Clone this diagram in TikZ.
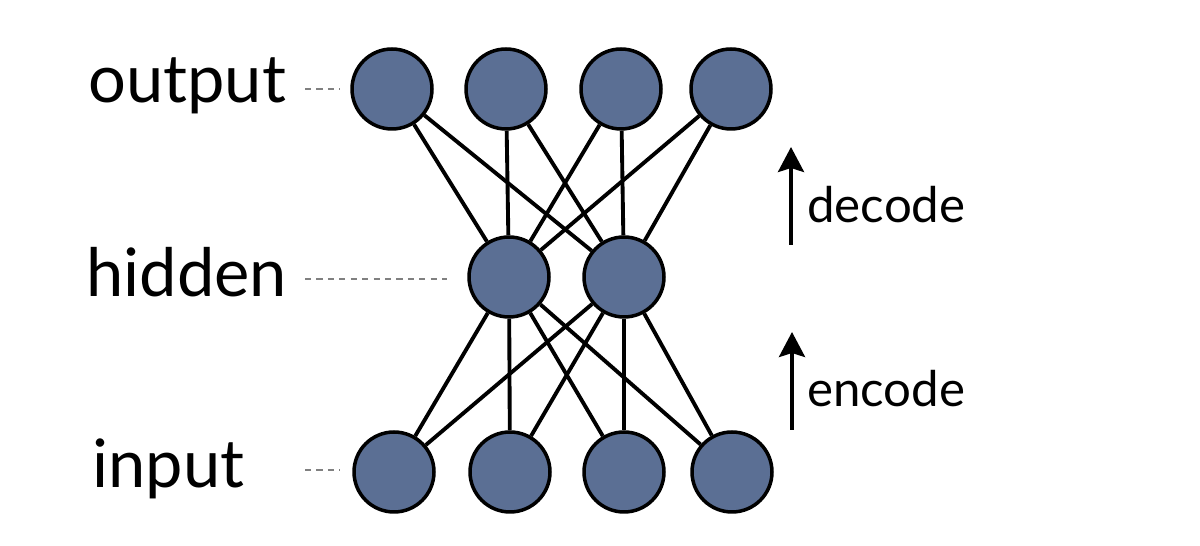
\documentclass[tikz,border=0pt]{standalone}
\usepackage{fontspec}
\setmainfont{Lato}
\usetikzlibrary{arrows.meta}
\definecolor{unitblue}{RGB}{91,111,148}

\begin{document}
\begin{tikzpicture}[
        x=0.02cm, y=-0.02cm,
        unit/.style={circle, draw=black, line width=2pt, fill=unitblue, minimum size=1.6cm, inner sep=0pt},
        layer/.style={font=\fontsize{38}{40}\selectfont, anchor=base west, inner sep=0pt},
        phase/.style={font=\fontsize{28}{30}\selectfont, anchor=base west, inner sep=0pt},
        link/.style={line width=2.2pt},
        guide/.style={gray, line width=1.1pt, dash pattern=on 3.5pt off 3pt},
        flow/.style={line width=2.2pt, -{Stealth[length=0.5cm, width=0.52cm, inset=0.08cm]}}
    ]
    \useasboundingbox (0,0) rectangle (1200,546);
%
    % Units
    \foreach \n/\x in {1/392, 2/506, 3/621, 4/731}
        \node[unit] (o\n) at (\x, 89) {};
    \node[unit] (h1) at (509, 277) {};
    \node[unit] (h2) at (624, 277) {};
    \foreach \n/\x in {1/394, 2/510, 3/624, 4/732}
        \node[unit] (i\n) at (\x, 472) {};
%
    % Weights
    \foreach \h in {1,2}
        \foreach \n in {1,...,4} {
            \draw[link] (h\h) -- (o\n);
            \draw[link] (h\h) -- (i\n);
        }
%
    % Layer names
    \node[layer] (lbl_out) at (88, 103) {output};
    \node[layer] (lbl_hid) at (86, 297) {hidden};
    \node[layer] (lbl_in) at (92, 488) {input};
%
    \coordinate (out_a) at (305, 89);  \coordinate (out_b) at (340, 89);
    \coordinate (hid_a) at (305, 279); \coordinate (hid_b) at (447, 279);
    \coordinate (in_a) at (305, 470);  \coordinate (in_b) at (340, 470);
    \draw[guide] (out_a) -- (out_b);
    \draw[guide] (hid_a) -- (hid_b);
    \draw[guide] (in_a) -- (in_b);
%
    % Direction
    \node[phase] (decode) at (807, 223) {decode};
    \node[phase] (encode) at (807, 407) {encode};
    \coordinate (dec_tail) at (791, 245); \coordinate (dec_head) at (791, 147);
    \coordinate (enc_tail) at (792, 430); \coordinate (enc_head) at (792, 332);
    \draw[flow] (dec_tail) -- (dec_head);
    \draw[flow] (enc_tail) -- (enc_head);
%
\end{tikzpicture}
\end{document}
